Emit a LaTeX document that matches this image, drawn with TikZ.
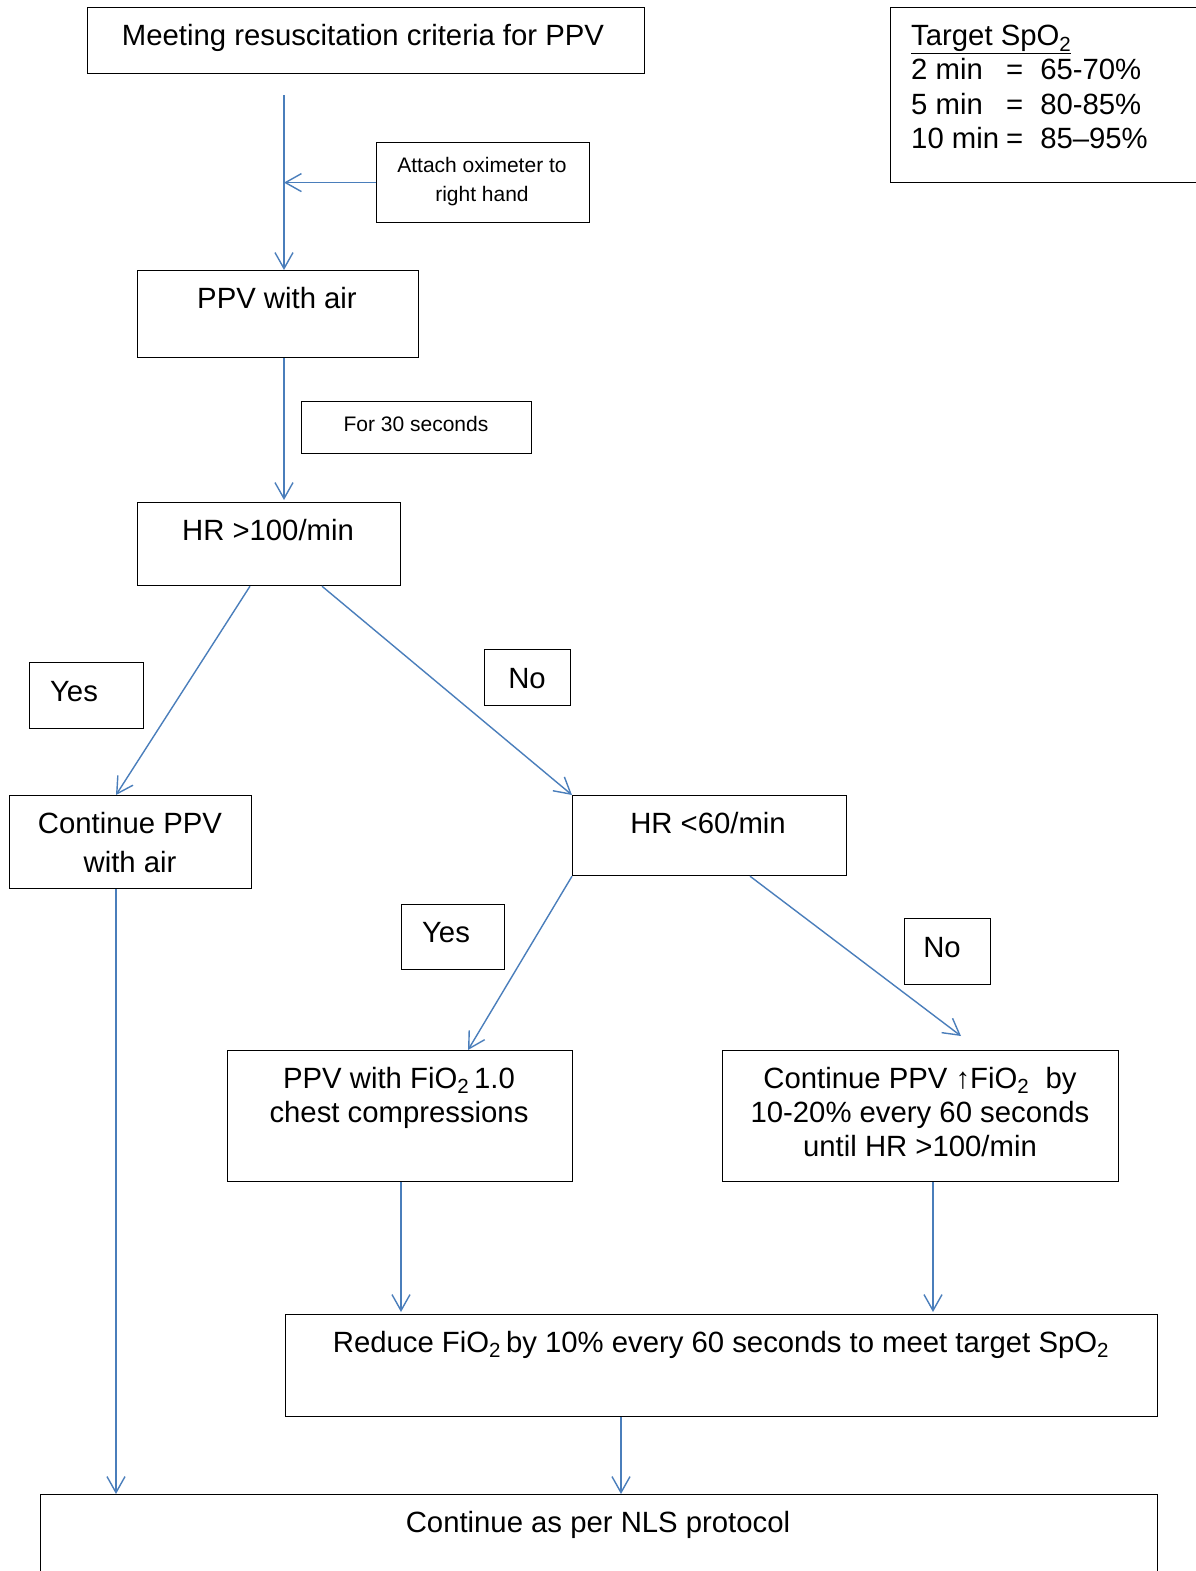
\documentclass[tikz,border=0pt]{standalone}
\usepackage{fontspec}
\setmainfont{Liberation Sans}
\usetikzlibrary{arrows.meta,positioning}
\definecolor{arrowblue}{RGB}{74,126,187}
\tikzset{
  box/.style={rectangle, draw=black, line width=1.2pt, inner sep=0pt, anchor=north west},
  txt/.style={inner sep=0pt, anchor=base, align=center, font=\fontsize{29.3}{34}\selectfont},
  smalltxt/.style={txt, font=\fontsize{21}{29}\selectfont},
  flow/.style={draw=arrowblue, line width=1.4pt, ->},
}
\begin{document}
\begin{tikzpicture}[x=1pt, y=-1pt, >={Straight Barb[length=16pt,width=18pt]}]
\useasboundingbox (0,0) rectangle (1196,1571);
\fill[white] (0,0) rectangle (1196,1571);

\node (meet) at (87,7) [box, minimum width=557pt, minimum height=66pt] {};
\node (target) at (890,7) [box, minimum width=320pt, minimum height=175pt] {};
\node (attach) at (376,142) [box, minimum width=213pt, minimum height=80pt] {};
\node (ppvair) at (137,270) [box, minimum width=281pt, minimum height=87pt] {};
\node (sec30) at (301,401) [box, minimum width=230pt, minimum height=52pt] {};
\node (hr100) at (137,502) [box, minimum width=263pt, minimum height=83pt] {};
\node (yes1) at (29,662) [box, minimum width=114pt, minimum height=66pt] {};
\node (no1) at (484,649) [box, minimum width=86pt, minimum height=56pt] {};
\node (contair) at (9,795) [box, minimum width=242pt, minimum height=93pt] {};
\node (hr60) at (572,795) [box, minimum width=274pt, minimum height=80pt] {};
\node (yes2) at (401,904) [box, minimum width=103pt, minimum height=65pt] {};
\node (no2) at (904,918) [box, minimum width=86pt, minimum height=66pt] {};
\node (ppvfio) at (227,1050) [box, minimum width=345pt, minimum height=131pt] {};
\node (contfio) at (722,1050) [box, minimum width=396pt, minimum height=131pt] {};
\node (reduce) at (285,1314) [box, minimum width=872pt, minimum height=102pt] {};
\node (nls) at (40,1494) [box, minimum width=1117pt, minimum height=100pt] {};

\node (meettxt) at (363,46) [txt] {Meeting resuscitation criteria for PPV};
\node (targettxt) at (911,46) [txt, anchor=base west, align=left]
  {\underline{Target SpO\textsubscript{2}}};
\node (target2) at (911,80) [txt, anchor=base west] {\makebox[95pt][l]{2 min}=\hspace{17pt}65-70\%};
\node (target5) at (911,114) [txt, anchor=base west] {\makebox[95pt][l]{5 min}=\hspace{17pt}80-85\%};
\node (target10) at (911,148) [txt, anchor=base west] {\makebox[95pt][l]{10 min}=\hspace{17pt}85--95\%};
\node (attachtxt) at (482,201) [smalltxt] {Attach oximeter to\\right hand};
\node (ppvairtxt) at (277,308) [txt] {PPV with air};
\node (sec30txt) at (416,431) [smalltxt] {For 30 seconds};
\node (hr100txt) at (268,540) [txt] {HR >100/min};
\node (yes1txt) at (74,701) [txt] {Yes};
\node (no1txt) at (527,688) [txt] {No};
\node (contairtxt) at (130,872) [txt, font=\fontsize{29.3}{39}\selectfont] {Continue PPV\\with air};
\node (hr60txt) at (708,833) [txt] {HR <60/min};
\node (yes2txt) at (446,942) [txt] {Yes};
\node (no2txt) at (942,957) [txt] {No};
\node (ppvfiotxt) at (399,1122) [txt] {PPV with FiO\textsubscript{2}\,1.0\\chest compressions};
\node (contfiotxt) at (920,1156) [txt] {Continue PPV ↑FiO\textsubscript{2}\ \ by\\10-20\% every 60 seconds\\until HR >100/min};
\node (reducetxt) at (721,1352) [txt] {Reduce FiO\textsubscript{2}\,by 10\% every 60 seconds to meet target SpO\textsubscript{2}};
\node (nlstxt) at (598,1532) [txt] {Continue as per NLS protocol};

\coordinate (meetout) at (284,95);
\draw[flow] (meetout) -- (ppvair.north -| meetout);
\draw[flow] (attach.west) -- (attach.west -| meetout);
\draw[flow] (ppvair.south -| meetout) -- ([yshift=2pt]hr100.north -| meetout);
\draw[flow] ([xshift=113pt]hr100.south west) -- ([xshift=107pt]contair.north west);
\draw[flow] ([xshift=185pt]hr100.south west) -- (hr60.north west);
\draw[flow] ([xshift=107pt]contair.south west) -- ([xshift=76pt]nls.north west);
\draw[flow] (hr60.south west) -- ([xshift=241pt]ppvfio.north west);
\draw[flow] ([xshift=178pt]hr60.south west) -- ([xshift=239pt,yshift=14pt]contfio.north west);
\draw[flow] ([xshift=174pt]ppvfio.south west) -- ([xshift=116pt,yshift=2pt]reduce.north west);
\draw[flow] ([xshift=211pt]contfio.south west) -- ([xshift=648pt,yshift=2pt]reduce.north west);
\draw[flow] ([xshift=336pt]reduce.south west) -- ([xshift=581pt]nls.north west);
\end{tikzpicture}
\end{document}
